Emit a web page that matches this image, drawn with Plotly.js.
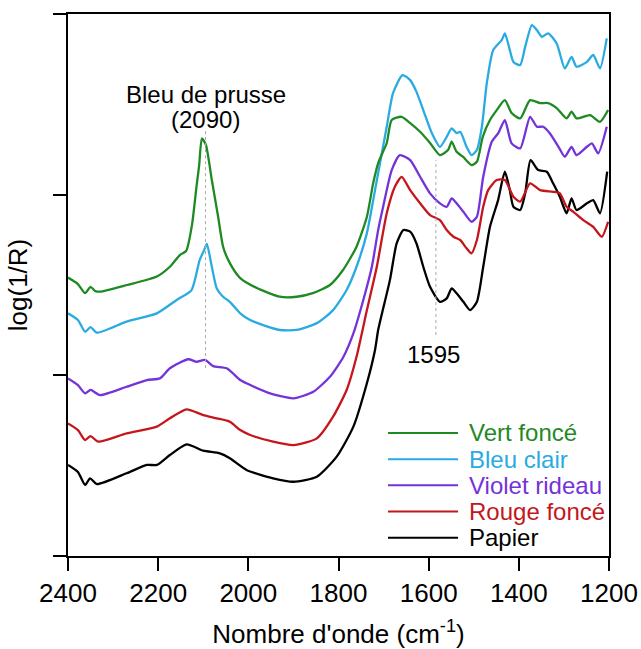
<!DOCTYPE html>
<html>
<head>
<meta charset="utf-8">
<script src="https://cdn.plot.ly/plotly-3.0.1.min.js"></script>
<style>html,body{margin:0;padding:0;background:#fff;}#chart{width:641px;height:649px;}</style>
</head>
<body>
<div id="chart"></div>
<script>
// ---- Data (wavenumber cm-1, log(1/R) arbitrary offset units) ----
const seriesNames = ["Vert foncé", "Bleu clair", "Violet rideau", "Rouge foncé", "Papier"];
const seriesColors = ["#1f8a24", "#29abe2", "#7333d8", "#c4161c", "#000000"];

const greenX = [2400,2378,2362,2350,2340,2329,2269,2203,2174,2152,2138,2125,2115,2109,2103,2094,2081,2067,2056,2041,2018,1981,1930,1893,1857,1819,1790,1760,1737,1723,1712,1693,1682,1660,1641,1619,1597,1575,1557,1549,1538,1524,1505,1493,1480,1464,1449,1431,1416,1397,1375,1353,1335,1316,1294,1283,1272,1242,1220,1202];
const greenY = [1.541,1.505,1.455,1.490,1.467,1.463,1.500,1.547,1.601,1.666,1.688,1.832,2.044,2.164,2.312,2.274,2.081,1.878,1.712,1.621,1.538,1.483,1.435,1.435,1.455,1.500,1.583,1.712,1.878,2.064,2.175,2.286,2.413,2.431,2.396,2.348,2.286,2.219,2.247,2.293,2.237,2.210,2.164,2.182,2.320,2.413,2.468,2.523,2.452,2.422,2.523,2.507,2.507,2.479,2.422,2.459,2.422,2.440,2.403,2.468];

const blueX = [2400,2378,2362,2350,2336,2270,2203,2159,2126,2108,2098,2092,2081,2070,2056,2041,2018,1996,1967,1930,1893,1848,1812,1782,1760,1737,1723,1712,1693,1679,1658,1641,1627,1612,1593,1575,1560,1549,1538,1530,1516,1505,1493,1482,1471,1457,1438,1431,1420,1412,1397,1386,1371,1360,1349,1335,1316,1298,1283,1272,1249,1235,1220,1205];
const blueY = [1.343,1.306,1.241,1.267,1.236,1.297,1.343,1.417,1.472,1.638,1.693,1.727,1.601,1.481,1.435,1.407,1.343,1.306,1.278,1.251,1.251,1.289,1.361,1.472,1.601,1.787,1.970,2.120,2.376,2.562,2.662,2.634,2.569,2.468,2.341,2.265,2.320,2.367,2.341,2.348,2.265,2.219,2.247,2.376,2.618,2.800,2.856,2.893,2.800,2.735,2.717,2.818,2.939,2.911,2.874,2.893,2.837,2.699,2.763,2.708,2.735,2.773,2.699,2.865];

const purpleX = [2400,2378,2362,2350,2329,2270,2225,2196,2174,2133,2115,2096,2078,2048,2018,2004,1952,1900,1856,1819,1789,1767,1745,1726,1712,1701,1682,1664,1641,1619,1597,1575,1560,1549,1538,1523,1505,1493,1479,1460,1446,1431,1416,1397,1375,1360,1346,1331,1312,1298,1283,1272,1249,1238,1224,1205];
const purpleY = [0.983,0.946,0.900,0.919,0.891,0.937,0.974,0.983,1.039,1.089,1.075,1.085,1.051,1.039,0.974,0.956,0.900,0.873,0.909,0.992,1.103,1.232,1.417,1.601,1.804,1.933,2.136,2.219,2.191,2.099,2.007,1.952,1.933,1.979,1.952,1.905,1.850,1.878,2.099,2.293,2.339,2.413,2.284,2.256,2.431,2.376,2.376,2.339,2.265,2.210,2.265,2.219,2.265,2.284,2.229,2.376];

const redX = [2400,2378,2362,2350,2333,2270,2203,2174,2137,2100,2070,2041,2018,1996,1945,1900,1848,1812,1782,1760,1737,1715,1693,1675,1660,1641,1619,1597,1575,1560,1545,1530,1516,1505,1493,1479,1468,1449,1431,1412,1397,1375,1353,1324,1309,1294,1279,1257,1235,1216,1202];
const redY = [0.734,0.697,0.642,0.664,0.633,0.679,0.716,0.762,0.812,0.780,0.762,0.743,0.697,0.670,0.633,0.614,0.651,0.771,0.919,1.103,1.361,1.601,1.897,2.044,2.099,2.025,1.952,1.887,1.859,1.804,1.767,1.749,1.703,1.675,1.749,1.933,2.025,2.081,2.081,1.988,1.961,2.063,2.025,2.016,2.007,1.933,1.905,1.859,1.822,1.767,1.850];

const blackX = [2400,2378,2362,2351,2336,2270,2225,2203,2174,2137,2100,2063,2041,2004,1945,1900,1848,1804,1767,1737,1719,1712,1686,1671,1656,1641,1627,1612,1597,1575,1560,1549,1538,1523,1508,1493,1479,1464,1446,1431,1420,1412,1397,1386,1374,1357,1338,1324,1309,1294,1283,1272,1249,1235,1220,1204];
const blackY = [0.504,0.465,0.393,0.430,0.398,0.458,0.504,0.504,0.559,0.618,0.583,0.568,0.541,0.476,0.430,0.411,0.439,0.550,0.716,0.956,1.140,1.251,1.527,1.730,1.804,1.795,1.730,1.601,1.490,1.407,1.426,1.481,1.454,1.407,1.361,1.407,1.601,1.822,1.970,2.127,2.025,1.933,1.915,2.007,2.191,2.136,2.127,2.063,1.988,1.897,1.979,1.915,1.952,1.970,1.897,2.127];

const xTickVals = [2400, 2200, 2000, 1800, 1600, 1400, 1200];
const xTickText = ["2400", "2200", "2000", "1800", "1600", "1400", "1200"];
const yTickVals = [0, 1, 2, 3];

// Peak markers: [wavenumber, yStart, yEnd]
const peakBleu = [2095, 1.040, 2.357];
const peak1595 = [1584, 1.223, 2.191];

const xs = [greenX, blueX, purpleX, redX, blackX];
const ys = [greenY, blueY, purpleY, redY, blackY];

const FONT = "Liberation Sans, Arial, sans-serif";

const traces = [];
for (let i = xs.length - 1; i >= 0; i--) {
  traces.push({
    x: xs[i], y: ys[i], type: "scatter", mode: "lines",
    name: seriesNames[i], showlegend: false,
    line: {color: seriesColors[i], width: 2.3, shape: "spline", smoothing: 0.6}
  });
}

// Custom legend (long line samples, coloured text)
const shapes = [];
const annotations = [];
const legTop = 0.227, legStep = 0.0483;
for (let i = 0; i < seriesNames.length; i++) {
  const yy = legTop - i * legStep;
  shapes.push({type: "line", xref: "paper", yref: "paper", x0: 0.5915, x1: 0.721, y0: yy, y1: yy,
    line: {color: seriesColors[i], width: 2}});
  annotations.push({xref: "paper", yref: "paper", x: 0.7375, y: yy, xanchor: "left", yanchor: "middle",
    text: seriesNames[i], showarrow: false, font: {family: FONT, size: 24, color: seriesColors[i]}});
}

for (const p of [peakBleu, peak1595]) {
  shapes.push({type: "line", xref: "x", yref: "y", x0: p[0], x1: p[0], y0: p[1], y1: p[2],
    line: {color: "#aaaaaa", width: 1, dash: "dot"}});
}

annotations.push({x: peakBleu[0], y: 2.557, xref: "x", yref: "y", text: "Bleu de prusse", showarrow: false,
  xanchor: "center", yanchor: "middle", font: {family: FONT, size: 24, color: "#000"}});
annotations.push({x: peakBleu[0], y: 2.418, xref: "x", yref: "y", text: "(2090)", showarrow: false,
  xanchor: "center", yanchor: "middle", font: {family: FONT, size: 24, color: "#000"}});
annotations.push({x: 1590, y: 1.118, xref: "x", yref: "y", text: "1595", showarrow: false,
  xanchor: "center", yanchor: "middle", font: {family: FONT, size: 24, color: "#000"}});

const layout = {
  width: 641, height: 649,
  margin: {l: 68, r: 32, t: 14, b: 93, pad: 0},
  paper_bgcolor: "#fff", plot_bgcolor: "#fff",
  showlegend: false,
  font: {family: FONT, color: "#000"},
  xaxis: {
    range: [2400, 1200], tickmode: "array", tickvals: xTickVals, ticktext: xTickText,
    ticks: "outside", ticklen: 13, tickwidth: 2, tickcolor: "#000",
    showline: true, linewidth: 2, linecolor: "#000", mirror: true,
    showgrid: false, zeroline: false,
    tickfont: {family: FONT, size: 26, color: "#000"},
    title: {text: "Nombre d'onde (cm<sup>-1</sup>)", font: {family: FONT, size: 26, color: "#000"}, standoff: 18},
    automargin: false
  },
  yaxis: {
    range: [0, 3], tickmode: "array", tickvals: yTickVals, showticklabels: false,
    ticks: "outside", ticklen: 13, tickwidth: 2, tickcolor: "#000",
    showline: true, linewidth: 2, linecolor: "#000", mirror: true,
    showgrid: false, zeroline: false,
    title: {text: "log(1/R)", font: {family: FONT, size: 26, color: "#000"}, standoff: 18},
    automargin: false
  },
  shapes: shapes,
  annotations: annotations
};

Plotly.newPlot("chart", traces, layout, {displayModeBar: false, staticPlot: true});
</script>
</body>
</html>
